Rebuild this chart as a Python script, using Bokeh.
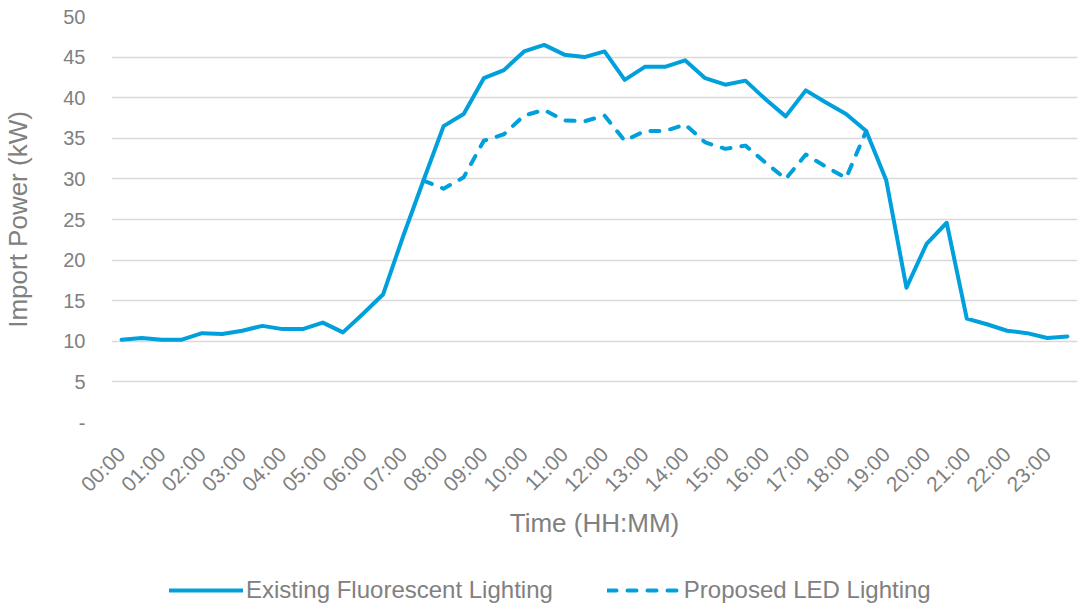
import numpy as np
from bokeh.plotting import figure
from bokeh.layouts import column
from bokeh.models import FixedTicker, Legend, LegendItem, Range1d, ColumnDataSource
from bokeh.embed import file_html
from bokeh.resources import INLINE

nan = float("nan")

times = ["00:00", "00:30", "01:00", "01:30", "02:00", "02:30", "03:00", "03:30",
         "04:00", "04:30", "05:00", "05:30", "06:00", "06:30", "07:00", "07:30",
         "08:00", "08:30", "09:00", "09:30", "10:00", "10:30", "11:00", "11:30",
         "12:00", "12:30", "13:00", "13:30", "14:00", "14:30", "15:00", "15:30",
         "16:00", "16:30", "17:00", "17:30", "18:00", "18:30", "19:00", "19:30",
         "20:00", "20:30", "21:00", "21:30", "22:00", "22:30", "23:00", "23:30"]

existing = [10.2, 10.4, 10.2, 10.2, 11.0, 10.9, 11.3, 11.9, 11.5, 11.5, 12.3, 11.1,
            13.4, 15.8, 23.0, 29.8, 36.5, 38.0, 42.4, 43.4, 45.7, 46.5, 45.3, 45.0,
            45.7, 42.2, 43.8, 43.8, 44.6, 42.4, 41.6, 42.1, 39.8, 37.7, 40.9, 39.4,
            38.0, 35.9, 29.8, 16.6, 22.0, 24.6, 12.8, 12.1, 11.3, 11.0, 10.4, 10.6]

proposed = [nan, nan, nan, nan, nan, nan, nan, nan, nan, nan, nan, nan,
            nan, nan, nan, 29.8, 28.8, 30.2, 34.7, 35.5, 37.8, 38.5, 37.2, 37.1,
            37.8, 34.7, 35.9, 35.9, 36.7, 34.5, 33.7, 34.1, 32.0, 30.0, 33.0, 31.5,
            30.1, 35.9, nan, nan, nan, nan, nan, nan, nan, nan, nan, nan]

series_names = ["Existing Fluorescent Lighting", "Proposed LED Lighting"]
y_ticks = [0, 5, 10, 15, 20, 25, 30, 35, 40, 45, 50]
x_title = "Time (HH:MM)"
y_title = "Import Power (kW)"

BLUE = "#00A0DC"
GREY = "#808080"
GRID = "#D9D9D9"
FONT = "Liberation Sans"

x = list(range(len(times)))
src = ColumnDataSource(dict(x=x, existing=existing, proposed=proposed))

p = figure(width=1080, height=566, output_backend="svg", toolbar_location=None,
           x_range=Range1d(-0.5, len(times) - 0.5), y_range=Range1d(0, 50),
           min_border_left=106, min_border_right=3, min_border_top=16, min_border_bottom=144)
p.outline_line_color = None
p.background_fill_color = "white"
p.border_fill_color = "white"

line_style = dict(line_color=BLUE, line_width=4, line_join="round", line_cap="round")
r1 = p.line("x", "existing", source=src, **line_style)
r2 = p.line("x", "proposed", source=src, line_dash="9 11", **line_style)

# x axis
hour_idx = [i for i, t in enumerate(times) if t.endswith(":00")]
xa = p.xaxis[0]
xa.ticker = FixedTicker(ticks=hour_idx)
xa.major_label_overrides = {i: times[i] for i in hour_idx}
xa.major_label_orientation = np.pi / 4
xa.axis_line_color = None
xa.major_tick_line_color = None
xa.minor_tick_line_color = None
xa.major_label_text_font = FONT
xa.major_label_text_font_size = "21px"
xa.major_label_text_color = GREY
xa.major_label_standoff = 22
xa.axis_label = x_title
xa.axis_label_text_font = FONT
xa.axis_label_text_font_size = "26px"
xa.axis_label_text_font_style = "normal"
xa.axis_label_text_color = GREY
xa.axis_label_standoff = 1

# y axis
ya = p.yaxis[0]
ya.ticker = FixedTicker(ticks=y_ticks)
ya.major_label_overrides = {0: "-"}
ya.axis_line_color = None
ya.major_tick_line_color = None
ya.minor_tick_line_color = None
ya.major_label_text_font = FONT
ya.major_label_text_font_size = "20px"
ya.major_label_text_color = GREY
ya.major_label_standoff = 20
ya.axis_label = y_title
ya.axis_label_text_font = FONT
ya.axis_label_text_font_size = "26px"
ya.axis_label_text_font_style = "normal"
ya.axis_label_text_color = GREY
ya.axis_label_standoff = 27

p.xgrid.grid_line_color = None
p.ygrid.grid_line_color = GRID
p.ygrid.grid_line_width = 1.5
p.ygrid.ticker = FixedTicker(ticks=y_ticks)

# legend strip below the chart
lg = figure(width=1080, height=40, output_backend="svg", toolbar_location=None,
            x_range=Range1d(0, 1), y_range=Range1d(0, 1),
            min_border_left=0, min_border_right=0, min_border_top=0, min_border_bottom=0)
lg.axis.visible = False
lg.grid.visible = False
lg.outline_line_color = None
lg.border_fill_color = "white"
empty = ColumnDataSource(dict(x=[nan], y=[nan]))
l1 = lg.line("x", "y", source=empty, **line_style)
l2 = lg.line("x", "y", source=empty, line_dash="9 11", **line_style)

legend = Legend(items=[LegendItem(label=series_names[0], renderers=[l1]),
                       LegendItem(label=series_names[1], renderers=[l2])],
                orientation="horizontal", location=(58, 2))
legend.label_text_font = FONT
legend.label_text_font_size = "24px"
legend.label_text_color = GREY
legend.glyph_width = 74
legend.glyph_height = 20
legend.label_standoff = 3
legend.spacing = 54
legend.padding = 0
legend.margin = 0
legend.border_line_color = None
legend.background_fill_alpha = 0
lg.add_layout(legend, "center")

layout = column(p, lg, spacing=0)
open("out.html", "w").write(file_html(layout, INLINE))
